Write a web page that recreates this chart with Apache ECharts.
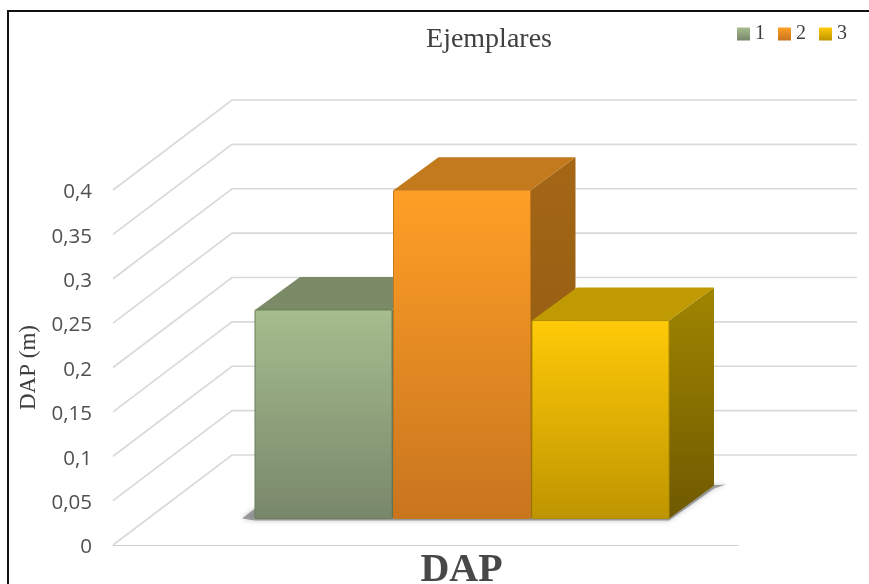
<!DOCTYPE html>
<html>
<head>
<meta charset="utf-8">
<style>html,body{margin:0;padding:0;background:#fff;overflow:hidden}#c{width:869px;height:584px}</style>
<script src="https://cdn.jsdelivr.net/npm/echarts@6/dist/echarts.min.js"></script>
</head>
<body>
<div id="c"></div>
<script>
const categories = ['DAP'];
const seriesNames = ['1', '2', '3'];
const values1 = [0.235];
const values2 = [0.37];
const values3 = [0.223];
const yTicks = [0, 0.05, 0.1, 0.15, 0.2, 0.25, 0.3, 0.35, 0.4];

const WALL = {dx: 119, dy: -90};
const FRONT = {dx: 36.5, dy: -26.5};
const DEPTH = {dx: 45, dy: -33};
const BAR_W = 137, BAR_STEP = 138.5;

const grad = (a, b) => new echarts.graphic.LinearGradient(0, 0, 0, 1, [{offset: 0, color: a}, {offset: 1, color: b}]);
const palette = [
  {front: ['#a6bd8e', '#78876a'], top: '#7b8b68', side: ['#6f7f5c', '#5a6849'], edge: '#6d7d5c'},
  {front: ['#ff9f26', '#c8751f'], top: '#c27a1c', side: ['#a56716', '#8a5510'], edge: '#c47a1c'},
  {front: ['#ffca08', '#bf9500'], top: '#bf9a02', side: ['#a08500', '#6f5900'], edge: '#b08c00'}
];

function barRender(idx) {
  return function (params, api) {
    const p = palette[idx];
    const base = api.coord([api.value(0), 0]);
    const top = api.coord([api.value(0), api.value(1)]);
    const cx = base[0] + FRONT.dx + (idx - 1) * BAR_STEP;
    const l = cx - BAR_W / 2, r = cx + BAR_W / 2;
    const b = base[1] + FRONT.dy, t = top[1] + FRONT.dy;
    const d = DEPTH;
    return {
      type: 'group',
      children: [
        {type: 'polygon', shape: {points: [[r, t], [r + d.dx, t + d.dy], [r + d.dx, b + d.dy], [r, b]]},
          style: {fill: grad(p.side[0], p.side[1])}},
        {type: 'polygon', shape: {points: [[l, t], [l + d.dx, t + d.dy], [r + d.dx, t + d.dy], [r, t]]},
          style: {fill: p.top}},
        {type: 'rect', shape: {x: l, y: t, width: BAR_W, height: b - t, r: 1},
          style: {fill: grad(p.front[0], p.front[1]), stroke: p.edge, lineWidth: 1}}
      ]
    };
  };
}

function wallRender(params, api) {
  const cs = params.coordSys;
  const p = api.coord([0, api.value(1)]);
  const x0 = cs.x, x1 = cs.x + WALL.dx, x2 = cs.x + cs.width + WALL.dx;
  return {type: 'polyline', shape: {points: [[x0, p[1]], [x1, p[1] + WALL.dy], [x2, p[1] + WALL.dy]]},
    style: {fill: 'none', stroke: '#d9d9d9', lineWidth: 1.6}};
}

function shadowRender(params, api) {
  const base = api.coord([0, 0]);
  const cx = base[0] + FRONT.dx;
  const l = cx - 1.5 * BAR_STEP + 0.75, r = cx + 1.5 * BAR_STEP - 0.75;
  const b = base[1] + FRONT.dy;
  return {type: 'polygon', shape: {points: [[l - 13, b], [l, b - 10], [r + DEPTH.dx + 12, b + DEPTH.dy - 1], [r + DEPTH.dx, b + DEPTH.dy + 3], [r, b + 2], [l, b + 2]]},
    style: {fill: 'rgba(110,110,110,0.6)', shadowBlur: 5, shadowColor: 'rgba(110,110,110,0.7)'}};
}

const barData = [values1, values2, values3];
const chart = echarts.init(document.getElementById('c'), null, {renderer: 'canvas'});
chart.setOption({
  animation: false,
  backgroundColor: '#fff',
  title: {
    text: 'Ejemplares', left: 489, top: 26, textAlign: 'center', padding: 0,
    textStyle: {fontFamily: 'Liberation Serif', fontSize: 28, fontWeight: 'normal', color: '#404040'}
  },
  legend: {
    data: seriesNames, left: 737, top: 24, padding: 0, itemWidth: 13, itemHeight: 13, itemGap: 13, icon: 'rect',
    selectedMode: false,
    textStyle: {fontFamily: 'Liberation Serif', fontSize: 20, color: '#404040'}
  },
  grid: {left: 113, top: 190, width: 625, height: 355, containLabel: false, outerBoundsMode: 'none'},
  xAxis: {
    type: 'category', data: categories,
    axisLine: {show: true, lineStyle: {color: '#cfcfcf', width: 1}},
    axisTick: {show: false},
    axisLabel: {
      margin: 6, padding: [0, 0, 0, 72],
      fontFamily: 'Liberation Serif', fontSize: 40, fontWeight: 'bold', color: '#484848'
    }
  },
  yAxis: {
    type: 'value', min: 0, max: 0.4, interval: 0.05,
    name: 'DAP (m)', nameLocation: 'middle', nameGap: 70,
    nameTextStyle: {fontFamily: 'Liberation Serif', fontSize: 23, color: '#404040'},
    axisLine: {show: false}, axisTick: {show: false}, splitLine: {show: false},
    axisLabel: {
      margin: 21,
      formatter: v => '{a|' + String(v).replace('.', ',') + '}',
      rich: {a: {fontFamily: 'Open Sans', fontSize: 20.5, color: '#505050', padding: [5, 0, 0, 0]}}
    }
  },
  graphic: [{
    type: 'rect', silent: true, z: 100,
    shape: {x: 8, y: 11, width: 1000, height: 1000},
    style: {fill: 'none', stroke: '#111', lineWidth: 2}
  }],
  series: [
    {type: 'custom', name: 'walls', silent: true, z: 1, clip: false,
      data: yTicks.map(v => [0, v]), encode: {x: 0, y: 1}, renderItem: wallRender},
    {type: 'custom', name: 'shade', silent: true, z: 2, clip: false,
      data: [[0, 0]], encode: {x: 0, y: 1}, renderItem: shadowRender}
  ].concat(seriesNames.map((n, i) => ({
    type: 'custom', name: n, z: 3 + i, clip: false,
    itemStyle: {color: grad(palette[i].front[0], palette[i].front[1])},
    data: barData[i].map((v, k) => [k, v]), encode: {x: 0, y: 1},
    renderItem: barRender(i)
  })))
});
</script>
</body>
</html>
